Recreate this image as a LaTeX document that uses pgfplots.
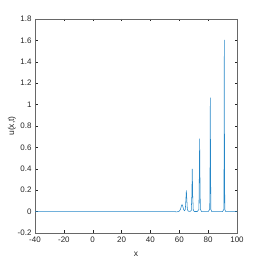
\documentclass[border=0pt]{standalone}
\usepackage{pgfplots}
\pgfplotsset{compat=1.18}
\usepackage{fontspec}
\setmainfont{Liberation Sans}
\definecolor{mblue}{rgb}{0,0.447,0.741}
\definecolor{axgray}{rgb}{0.15,0.15,0.15}
\begin{document}
\begin{tikzpicture}
\begin{axis}[
  scale only axis,
  width=202bp, height=214bp,
  xmin=-40, xmax=100, ymin=-0.2, ymax=1.8,
  xtick={-40,-20,...,100},
  ytick={-0.2,0,0.2,0.4,0.6,0.8,1,1.2,1.4,1.6,1.8},
  yticklabel style={/pgf/number format/fixed,/pgf/number format/precision=1},
  /pgf/number format/assume math mode=true,
  tick align=inside,
  major tick length=2.5bp,
  tick style={axgray, line width=0.4pt},
  axis line style={axgray!70, line width=0.5pt},
  ticklabel style={font=\fontsize{8}{9}\selectfont, text=axgray},
  xlabel={x}, ylabel={u(x,t)},
  label style={font=\fontsize{8.5}{10}\selectfont, text=axgray},
  xlabel style={yshift=-3bp},
  ylabel style={yshift=-5bp},
]
\addplot[mblue!85, line width=0.55pt] coordinates {
(-40,0) (57,0) (58,-0.003) (59,0.0) (60,0.004) (60.8,0.02) (61.4,0.05) (61.9,0.065) (62.4,0.05) (63,0.02) (63.6,0.008)
(64.2,0.02) (64.6,0.12) (64.9,0.199) (65.2,0.12) (65.6,0.02) (66.2,0.004) (67.5,0.002)
(68.3,0.01) (68.7,0.15) (69,0.399) (69.3,0.15) (69.7,0.01) (70.5,0.001) (72.5,0.001)
(73.6,0.02) (73.85,0.3) (74.1,0.682) (74.35,0.3) (74.6,0.02) (75.5,0) (80,0)
(81.1,0.02) (81.3,0.4) (81.5,1.065) (81.7,0.4) (81.9,0.02) (82.5,0) (90,0)
(90.85,0.02) (91.05,0.5) (91.2,1.604) (91.35,0.5) (91.55,0.02) (92.2,0) (100,0)
};
\end{axis}
\path (current axis.south west)+(-35bp,-29bp) rectangle ([shift={(25bp,19bp)}]current axis.north east);
\end{tikzpicture}
\end{document}
